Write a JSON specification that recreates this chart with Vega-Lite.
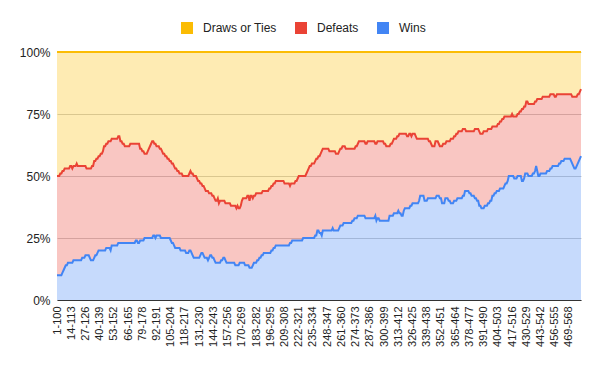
{
"$schema": "https://vega.github.io/schema/vega-lite/v6.json",
"width": 524, "height": 248,
"autosize": "none",
"padding": {"left": 57, "top": 52, "right": 19, "bottom": 71},
"background": "white",
"config": {"view": {"stroke": null}, "font": "Liberation Sans"},
"data": {"values": [
{"g":"1-100","W":10,"L":40,"D":50},{"g":"2-101","W":10,"L":40,"D":50},{"g":"3-102","W":10,"L":40,"D":50},{"g":"4-103","W":10,"L":41,"D":49},{"g":"5-104","W":10,"L":41,"D":49},
{"g":"6-105","W":11,"L":41,"D":48},{"g":"7-106","W":12,"L":40,"D":48},{"g":"8-107","W":13,"L":40,"D":47},{"g":"9-108","W":14,"L":39,"D":47},{"g":"10-109","W":14,"L":39,"D":47},
{"g":"11-110","W":15,"L":38,"D":47},{"g":"12-111","W":15,"L":38,"D":47},{"g":"13-112","W":15,"L":39,"D":46},{"g":"14-113","W":15,"L":39,"D":46},{"g":"15-114","W":15,"L":38,"D":47},
{"g":"16-115","W":16,"L":38,"D":46},{"g":"17-116","W":16,"L":38,"D":46},{"g":"18-117","W":16,"L":38,"D":46},{"g":"19-118","W":16,"L":39,"D":45},{"g":"20-119","W":16,"L":38,"D":46},
{"g":"21-120","W":16,"L":38,"D":46},{"g":"22-121","W":16,"L":38,"D":46},{"g":"23-122","W":16,"L":38,"D":46},{"g":"24-123","W":17,"L":37,"D":46},{"g":"25-124","W":17,"L":37,"D":46},
{"g":"26-125","W":17,"L":37,"D":46},{"g":"27-126","W":18,"L":36,"D":46},{"g":"28-127","W":18,"L":35,"D":47},{"g":"29-128","W":18,"L":35,"D":47},{"g":"30-129","W":18,"L":35,"D":47},
{"g":"31-130","W":17,"L":36,"D":47},{"g":"32-131","W":16,"L":37,"D":47},{"g":"33-132","W":16,"L":38,"D":46},{"g":"34-133","W":16,"L":38,"D":46},{"g":"35-134","W":17,"L":39,"D":44},
{"g":"36-135","W":18,"L":38,"D":44},{"g":"37-136","W":18,"L":39,"D":43},{"g":"38-137","W":19,"L":38,"D":43},{"g":"39-138","W":20,"L":38,"D":42},{"g":"40-139","W":20,"L":38,"D":42},
{"g":"41-140","W":20,"L":39,"D":41},{"g":"42-141","W":20,"L":39,"D":41},{"g":"43-142","W":20,"L":40,"D":40},{"g":"44-143","W":20,"L":42,"D":38},{"g":"45-144","W":20,"L":42,"D":38},
{"g":"46-145","W":21,"L":42,"D":37},{"g":"47-146","W":21,"L":42,"D":37},{"g":"48-147","W":21,"L":43,"D":36},{"g":"49-148","W":21,"L":43,"D":36},{"g":"50-149","W":20,"L":44,"D":36},
{"g":"51-150","W":22,"L":43,"D":35},{"g":"52-151","W":22,"L":43,"D":35},{"g":"53-152","W":22,"L":43,"D":35},{"g":"54-153","W":22,"L":43,"D":35},{"g":"55-154","W":22,"L":43,"D":35},
{"g":"56-155","W":22,"L":43,"D":35},{"g":"57-156","W":23,"L":43,"D":34},{"g":"58-157","W":23,"L":43,"D":34},{"g":"59-158","W":23,"L":41,"D":36},{"g":"60-159","W":23,"L":41,"D":36},
{"g":"61-160","W":23,"L":40,"D":37},{"g":"62-161","W":23,"L":40,"D":37},{"g":"63-162","W":23,"L":39,"D":38},{"g":"64-163","W":23,"L":39,"D":38},{"g":"65-164","W":23,"L":39,"D":38},
{"g":"66-165","W":23,"L":39,"D":38},{"g":"67-166","W":23,"L":39,"D":38},{"g":"68-167","W":23,"L":40,"D":37},{"g":"69-168","W":23,"L":40,"D":37},{"g":"70-169","W":23,"L":40,"D":37},
{"g":"71-170","W":23,"L":40,"D":37},{"g":"72-171","W":23,"L":40,"D":37},{"g":"73-172","W":24,"L":39,"D":37},{"g":"74-173","W":24,"L":39,"D":37},{"g":"75-174","W":23,"L":40,"D":37},
{"g":"76-175","W":23,"L":40,"D":37},{"g":"77-176","W":24,"L":37,"D":39},{"g":"78-177","W":24,"L":37,"D":39},{"g":"79-178","W":24,"L":36,"D":40},{"g":"80-179","W":24,"L":36,"D":40},
{"g":"81-180","W":25,"L":34,"D":41},{"g":"82-181","W":25,"L":34,"D":41},{"g":"83-182","W":25,"L":34,"D":41},{"g":"84-183","W":25,"L":35,"D":40},{"g":"85-184","W":25,"L":36,"D":39},
{"g":"86-185","W":25,"L":37,"D":38},{"g":"87-186","W":25,"L":38,"D":37},{"g":"88-187","W":25,"L":39,"D":36},{"g":"89-188","W":26,"L":38,"D":36},{"g":"90-189","W":26,"L":37,"D":37},
{"g":"91-190","W":25,"L":38,"D":37},{"g":"92-191","W":26,"L":36,"D":38},{"g":"93-192","W":26,"L":36,"D":38},{"g":"94-193","W":26,"L":36,"D":38},{"g":"95-194","W":26,"L":35,"D":39},
{"g":"96-195","W":25,"L":36,"D":39},{"g":"97-196","W":25,"L":35,"D":40},{"g":"98-197","W":25,"L":34,"D":41},{"g":"99-198","W":25,"L":34,"D":41},{"g":"100-199","W":25,"L":33,"D":42},
{"g":"101-200","W":25,"L":33,"D":42},{"g":"102-201","W":25,"L":32,"D":43},{"g":"103-202","W":25,"L":32,"D":43},{"g":"104-203","W":25,"L":31,"D":44},{"g":"105-204","W":24,"L":32,"D":44},
{"g":"106-205","W":23,"L":32,"D":45},{"g":"107-206","W":23,"L":32,"D":45},{"g":"108-207","W":22,"L":32,"D":46},{"g":"109-208","W":21,"L":32,"D":47},{"g":"110-209","W":21,"L":32,"D":47},
{"g":"111-210","W":21,"L":31,"D":48},{"g":"112-211","W":21,"L":31,"D":48},{"g":"113-212","W":21,"L":30,"D":49},{"g":"114-213","W":20,"L":31,"D":49},{"g":"115-214","W":20,"L":31,"D":49},
{"g":"116-215","W":20,"L":30,"D":50},{"g":"117-216","W":20,"L":30,"D":50},{"g":"118-217","W":20,"L":30,"D":50},{"g":"119-218","W":19,"L":31,"D":50},{"g":"120-219","W":19,"L":31,"D":50},
{"g":"121-220","W":19,"L":31,"D":50},{"g":"122-221","W":20,"L":31,"D":49},{"g":"123-222","W":20,"L":32,"D":48},{"g":"124-223","W":19,"L":32,"D":49},{"g":"125-224","W":18,"L":33,"D":49},
{"g":"126-225","W":17,"L":33,"D":50},{"g":"127-226","W":17,"L":33,"D":50},{"g":"128-227","W":17,"L":33,"D":50},{"g":"129-228","W":17,"L":32,"D":51},{"g":"130-229","W":17,"L":31,"D":52},
{"g":"131-230","W":17,"L":31,"D":52},{"g":"132-231","W":18,"L":29,"D":53},{"g":"133-232","W":19,"L":28,"D":53},{"g":"134-233","W":19,"L":27,"D":54},{"g":"135-234","W":18,"L":28,"D":54},
{"g":"136-235","W":17,"L":28,"D":55},{"g":"137-236","W":17,"L":27,"D":56},{"g":"138-237","W":17,"L":27,"D":56},{"g":"139-238","W":16,"L":28,"D":56},{"g":"140-239","W":17,"L":26,"D":57},
{"g":"141-240","W":18,"L":25,"D":57},{"g":"142-241","W":18,"L":25,"D":57},{"g":"143-242","W":17,"L":25,"D":58},{"g":"144-243","W":17,"L":25,"D":58},{"g":"145-244","W":16,"L":25,"D":59},
{"g":"146-245","W":15,"L":25,"D":60},{"g":"147-246","W":15,"L":25,"D":60},{"g":"148-247","W":15,"L":26,"D":59},{"g":"149-248","W":15,"L":24,"D":61},{"g":"150-249","W":15,"L":25,"D":60},
{"g":"151-250","W":16,"L":24,"D":60},{"g":"152-251","W":16,"L":24,"D":60},{"g":"153-252","W":17,"L":23,"D":60},{"g":"154-253","W":17,"L":23,"D":60},{"g":"155-254","W":16,"L":23,"D":61},
{"g":"156-255","W":15,"L":24,"D":61},{"g":"157-256","W":15,"L":24,"D":61},{"g":"158-257","W":15,"L":24,"D":61},{"g":"159-258","W":15,"L":24,"D":61},{"g":"160-259","W":15,"L":23,"D":62},
{"g":"161-260","W":15,"L":23,"D":62},{"g":"162-261","W":15,"L":23,"D":62},{"g":"163-262","W":15,"L":23,"D":62},{"g":"164-263","W":14,"L":24,"D":62},{"g":"165-264","W":14,"L":23,"D":63},
{"g":"166-265","W":14,"L":24,"D":62},{"g":"167-266","W":14,"L":23,"D":63},{"g":"168-267","W":15,"L":22,"D":63},{"g":"169-268","W":15,"L":23,"D":62},{"g":"170-269","W":15,"L":25,"D":60},
{"g":"171-270","W":15,"L":26,"D":59},{"g":"172-271","W":15,"L":26,"D":59},{"g":"173-272","W":14,"L":27,"D":59},{"g":"174-273","W":14,"L":27,"D":59},{"g":"175-274","W":14,"L":28,"D":58},
{"g":"176-275","W":14,"L":28,"D":58},{"g":"177-276","W":13,"L":27,"D":60},{"g":"178-277","W":13,"L":29,"D":58},{"g":"179-278","W":13,"L":29,"D":58},{"g":"180-279","W":14,"L":27,"D":59},
{"g":"181-280","W":15,"L":27,"D":58},{"g":"182-281","W":15,"L":27,"D":58},{"g":"183-282","W":15,"L":28,"D":57},{"g":"184-283","W":16,"L":27,"D":57},{"g":"185-284","W":16,"L":27,"D":57},
{"g":"186-285","W":17,"L":26,"D":57},{"g":"187-286","W":17,"L":26,"D":57},{"g":"188-287","W":18,"L":25,"D":57},{"g":"189-288","W":18,"L":26,"D":56},{"g":"190-289","W":19,"L":25,"D":56},
{"g":"191-290","W":19,"L":25,"D":56},{"g":"192-291","W":19,"L":25,"D":56},{"g":"193-292","W":19,"L":25,"D":56},{"g":"194-293","W":19,"L":25,"D":56},{"g":"195-294","W":19,"L":26,"D":55},
{"g":"196-295","W":19,"L":26,"D":55},{"g":"197-296","W":20,"L":26,"D":54},{"g":"198-297","W":20,"L":26,"D":54},{"g":"199-298","W":21,"L":26,"D":53},{"g":"200-299","W":21,"L":26,"D":53},
{"g":"201-300","W":22,"L":26,"D":52},{"g":"202-301","W":22,"L":26,"D":52},{"g":"203-302","W":22,"L":26,"D":52},{"g":"204-303","W":22,"L":26,"D":52},{"g":"205-304","W":22,"L":26,"D":52},
{"g":"206-305","W":22,"L":26,"D":52},{"g":"207-306","W":22,"L":26,"D":52},{"g":"208-307","W":22,"L":26,"D":52},{"g":"209-308","W":22,"L":25,"D":53},{"g":"210-309","W":22,"L":25,"D":53},
{"g":"211-310","W":22,"L":25,"D":53},{"g":"212-311","W":22,"L":25,"D":53},{"g":"213-312","W":22,"L":25,"D":53},{"g":"214-313","W":23,"L":23,"D":54},{"g":"215-314","W":23,"L":24,"D":53},
{"g":"216-315","W":24,"L":23,"D":53},{"g":"217-316","W":24,"L":23,"D":53},{"g":"218-317","W":24,"L":23,"D":53},{"g":"219-318","W":24,"L":24,"D":52},{"g":"220-319","W":24,"L":24,"D":52},
{"g":"221-320","W":24,"L":25,"D":51},{"g":"222-321","W":24,"L":26,"D":50},{"g":"223-322","W":24,"L":26,"D":50},{"g":"224-323","W":24,"L":26,"D":50},{"g":"225-324","W":24,"L":26,"D":50},
{"g":"226-325","W":25,"L":25,"D":50},{"g":"227-326","W":25,"L":25,"D":50},{"g":"228-327","W":25,"L":25,"D":50},{"g":"229-328","W":25,"L":26,"D":49},{"g":"230-329","W":25,"L":27,"D":48},
{"g":"231-330","W":25,"L":28,"D":47},{"g":"232-331","W":25,"L":29,"D":46},{"g":"233-332","W":25,"L":29,"D":46},{"g":"234-333","W":25,"L":30,"D":45},{"g":"235-334","W":25,"L":30,"D":45},
{"g":"236-335","W":25,"L":30,"D":45},{"g":"237-336","W":26,"L":30,"D":44},{"g":"238-337","W":26,"L":31,"D":43},{"g":"239-338","W":28,"L":29,"D":43},{"g":"240-339","W":28,"L":30,"D":42},
{"g":"241-340","W":27,"L":31,"D":42},{"g":"242-341","W":27,"L":32,"D":41},{"g":"243-342","W":26,"L":34,"D":40},{"g":"244-343","W":28,"L":33,"D":39},{"g":"245-344","W":28,"L":33,"D":39},
{"g":"246-345","W":28,"L":33,"D":39},{"g":"247-346","W":28,"L":33,"D":39},{"g":"248-347","W":28,"L":33,"D":39},{"g":"249-348","W":28,"L":33,"D":39},{"g":"250-349","W":28,"L":32,"D":40},
{"g":"251-350","W":28,"L":32,"D":40},{"g":"252-351","W":28,"L":32,"D":40},{"g":"253-352","W":29,"L":31,"D":40},{"g":"254-353","W":28,"L":32,"D":40},{"g":"255-354","W":28,"L":32,"D":40},
{"g":"256-355","W":28,"L":31,"D":41},{"g":"257-356","W":28,"L":31,"D":41},{"g":"258-357","W":28,"L":31,"D":41},{"g":"259-358","W":29,"L":31,"D":40},{"g":"260-359","W":30,"L":31,"D":39},
{"g":"261-360","W":30,"L":31,"D":39},{"g":"262-361","W":30,"L":32,"D":38},{"g":"263-362","W":31,"L":31,"D":38},{"g":"264-363","W":31,"L":31,"D":38},{"g":"265-364","W":31,"L":30,"D":39},
{"g":"266-365","W":31,"L":30,"D":39},{"g":"267-366","W":31,"L":30,"D":39},{"g":"268-367","W":31,"L":30,"D":39},{"g":"269-368","W":31,"L":30,"D":39},{"g":"270-369","W":31,"L":30,"D":39},
{"g":"271-370","W":32,"L":29,"D":39},{"g":"272-371","W":32,"L":29,"D":39},{"g":"273-372","W":33,"L":28,"D":39},{"g":"274-373","W":33,"L":29,"D":38},{"g":"275-374","W":33,"L":29,"D":38},
{"g":"276-375","W":34,"L":29,"D":37},{"g":"277-376","W":34,"L":30,"D":36},{"g":"278-377","W":34,"L":30,"D":36},{"g":"279-378","W":34,"L":30,"D":36},{"g":"280-379","W":34,"L":30,"D":36},
{"g":"281-380","W":34,"L":30,"D":36},{"g":"282-381","W":34,"L":30,"D":36},{"g":"283-382","W":33,"L":30,"D":37},{"g":"284-383","W":33,"L":30,"D":37},{"g":"285-384","W":33,"L":31,"D":36},
{"g":"286-385","W":33,"L":31,"D":36},{"g":"287-386","W":33,"L":31,"D":36},{"g":"288-387","W":33,"L":31,"D":36},{"g":"289-388","W":33,"L":31,"D":36},{"g":"290-389","W":33,"L":31,"D":36},
{"g":"291-390","W":33,"L":31,"D":36},{"g":"292-391","W":34,"L":29,"D":37},{"g":"293-392","W":32,"L":31,"D":37},{"g":"294-393","W":33,"L":31,"D":36},{"g":"295-394","W":33,"L":31,"D":36},
{"g":"296-395","W":32,"L":32,"D":36},{"g":"297-396","W":32,"L":32,"D":36},{"g":"298-397","W":32,"L":32,"D":36},{"g":"299-398","W":32,"L":32,"D":36},{"g":"300-399","W":32,"L":31,"D":37},
{"g":"301-400","W":32,"L":31,"D":37},{"g":"302-401","W":32,"L":30,"D":38},{"g":"303-402","W":32,"L":30,"D":38},{"g":"304-403","W":32,"L":30,"D":38},{"g":"305-404","W":34,"L":28,"D":38},
{"g":"306-405","W":34,"L":29,"D":37},{"g":"307-406","W":34,"L":29,"D":37},{"g":"308-407","W":34,"L":30,"D":36},{"g":"309-408","W":35,"L":30,"D":35},{"g":"310-409","W":35,"L":30,"D":35},
{"g":"311-410","W":35,"L":30,"D":35},{"g":"312-411","W":35,"L":31,"D":34},{"g":"313-412","W":36,"L":30,"D":34},{"g":"314-413","W":35,"L":32,"D":33},{"g":"315-414","W":35,"L":32,"D":33},
{"g":"316-415","W":34,"L":33,"D":33},{"g":"317-416","W":34,"L":33,"D":33},{"g":"318-417","W":36,"L":31,"D":33},{"g":"319-418","W":37,"L":30,"D":33},{"g":"320-419","W":37,"L":30,"D":33},
{"g":"321-420","W":37,"L":29,"D":34},{"g":"322-421","W":37,"L":29,"D":34},{"g":"323-422","W":37,"L":30,"D":33},{"g":"324-423","W":38,"L":29,"D":33},{"g":"325-424","W":38,"L":28,"D":34},
{"g":"326-425","W":39,"L":28,"D":33},{"g":"327-426","W":39,"L":28,"D":33},{"g":"328-427","W":39,"L":28,"D":33},{"g":"329-428","W":39,"L":27,"D":34},{"g":"330-429","W":39,"L":26,"D":35},
{"g":"331-430","W":39,"L":26,"D":35},{"g":"332-431","W":40,"L":25,"D":35},{"g":"333-432","W":42,"L":23,"D":35},{"g":"334-433","W":42,"L":23,"D":35},{"g":"335-434","W":42,"L":23,"D":35},
{"g":"336-435","W":42,"L":23,"D":35},{"g":"337-436","W":40,"L":25,"D":35},{"g":"338-437","W":40,"L":25,"D":35},{"g":"339-438","W":40,"L":25,"D":35},{"g":"340-439","W":41,"L":24,"D":35},
{"g":"341-440","W":41,"L":23,"D":36},{"g":"342-441","W":41,"L":23,"D":36},{"g":"343-442","W":41,"L":22,"D":37},{"g":"344-443","W":41,"L":21,"D":38},{"g":"345-444","W":41,"L":21,"D":38},
{"g":"346-445","W":41,"L":21,"D":38},{"g":"347-446","W":41,"L":23,"D":36},{"g":"348-447","W":42,"L":22,"D":36},{"g":"349-448","W":42,"L":22,"D":36},{"g":"350-449","W":42,"L":21,"D":37},
{"g":"351-450","W":41,"L":21,"D":38},{"g":"352-451","W":41,"L":21,"D":38},{"g":"353-452","W":39,"L":23,"D":38},{"g":"354-453","W":39,"L":24,"D":37},{"g":"355-454","W":39,"L":24,"D":37},
{"g":"356-455","W":41,"L":22,"D":37},{"g":"357-456","W":41,"L":23,"D":36},{"g":"358-457","W":41,"L":23,"D":36},{"g":"359-458","W":40,"L":24,"D":36},{"g":"360-459","W":40,"L":24,"D":36},
{"g":"361-460","W":39,"L":26,"D":35},{"g":"362-461","W":39,"L":26,"D":35},{"g":"363-462","W":39,"L":26,"D":35},{"g":"364-463","W":40,"L":26,"D":34},{"g":"365-464","W":40,"L":26,"D":34},
{"g":"366-465","W":40,"L":27,"D":33},{"g":"367-466","W":41,"L":26,"D":33},{"g":"368-467","W":41,"L":27,"D":32},{"g":"369-468","W":41,"L":27,"D":32},{"g":"370-469","W":41,"L":27,"D":32},
{"g":"371-470","W":41,"L":27,"D":32},{"g":"372-471","W":42,"L":27,"D":31},{"g":"373-472","W":42,"L":27,"D":31},{"g":"374-473","W":44,"L":25,"D":31},{"g":"375-474","W":44,"L":24,"D":32},
{"g":"376-475","W":44,"L":24,"D":32},{"g":"377-476","W":44,"L":24,"D":32},{"g":"378-477","W":43,"L":25,"D":32},{"g":"379-478","W":43,"L":25,"D":32},{"g":"380-479","W":42,"L":26,"D":32},
{"g":"381-480","W":42,"L":26,"D":32},{"g":"382-481","W":42,"L":26,"D":32},{"g":"383-482","W":41,"L":28,"D":31},{"g":"384-483","W":41,"L":28,"D":31},{"g":"385-484","W":40,"L":29,"D":31},
{"g":"386-485","W":40,"L":29,"D":31},{"g":"387-486","W":38,"L":30,"D":32},{"g":"388-487","W":38,"L":29,"D":33},{"g":"389-488","W":37,"L":30,"D":33},{"g":"390-489","W":37,"L":30,"D":33},
{"g":"391-490","W":37,"L":31,"D":32},{"g":"392-491","W":38,"L":30,"D":32},{"g":"393-492","W":38,"L":30,"D":32},{"g":"394-493","W":38,"L":30,"D":32},{"g":"395-494","W":39,"L":30,"D":31},
{"g":"396-495","W":39,"L":30,"D":31},{"g":"397-496","W":40,"L":29,"D":31},{"g":"398-497","W":40,"L":29,"D":31},{"g":"399-498","W":42,"L":28,"D":30},{"g":"400-499","W":42,"L":28,"D":30},
{"g":"401-500","W":43,"L":27,"D":30},{"g":"402-501","W":43,"L":27,"D":30},{"g":"403-502","W":44,"L":26,"D":30},{"g":"404-503","W":44,"L":27,"D":29},{"g":"405-504","W":44,"L":27,"D":29},
{"g":"406-505","W":45,"L":27,"D":28},{"g":"407-506","W":45,"L":27,"D":28},{"g":"408-507","W":45,"L":28,"D":27},{"g":"409-508","W":45,"L":28,"D":27},{"g":"410-509","W":46,"L":28,"D":26},
{"g":"411-510","W":47,"L":27,"D":26},{"g":"412-511","W":47,"L":27,"D":26},{"g":"413-512","W":48,"L":26,"D":26},{"g":"414-513","W":50,"L":24,"D":26},{"g":"415-514","W":50,"L":24,"D":26},
{"g":"416-515","W":50,"L":24,"D":26},{"g":"417-516","W":50,"L":25,"D":25},{"g":"418-517","W":50,"L":24,"D":26},{"g":"419-518","W":49,"L":25,"D":26},{"g":"420-519","W":49,"L":25,"D":26},
{"g":"421-520","W":49,"L":25,"D":26},{"g":"422-521","W":50,"L":25,"D":25},{"g":"423-522","W":50,"L":25,"D":25},{"g":"424-523","W":50,"L":26,"D":24},{"g":"425-524","W":50,"L":26,"D":24},
{"g":"426-525","W":48,"L":29,"D":23},{"g":"427-526","W":48,"L":29,"D":23},{"g":"428-527","W":49,"L":29,"D":22},{"g":"429-528","W":51,"L":27,"D":22},{"g":"430-529","W":51,"L":29,"D":20},
{"g":"431-530","W":51,"L":29,"D":20},{"g":"432-531","W":50,"L":29,"D":21},{"g":"433-532","W":50,"L":29,"D":21},{"g":"434-533","W":50,"L":29,"D":21},{"g":"435-534","W":50,"L":29,"D":21},
{"g":"436-535","W":51,"L":28,"D":21},{"g":"437-536","W":51,"L":28,"D":21},{"g":"438-537","W":52,"L":28,"D":20},{"g":"439-538","W":54,"L":26,"D":20},{"g":"440-539","W":52,"L":29,"D":19},
{"g":"441-540","W":50,"L":31,"D":19},{"g":"442-541","W":50,"L":31,"D":19},{"g":"443-542","W":51,"L":30,"D":19},{"g":"444-543","W":51,"L":30,"D":19},{"g":"445-544","W":51,"L":31,"D":18},
{"g":"446-545","W":51,"L":31,"D":18},{"g":"447-546","W":51,"L":31,"D":18},{"g":"448-547","W":51,"L":31,"D":18},{"g":"449-548","W":52,"L":30,"D":18},{"g":"450-549","W":52,"L":30,"D":18},
{"g":"451-550","W":52,"L":30,"D":18},{"g":"452-551","W":53,"L":30,"D":17},{"g":"453-552","W":53,"L":30,"D":17},{"g":"454-553","W":54,"L":29,"D":17},{"g":"455-554","W":54,"L":29,"D":17},
{"g":"456-555","W":54,"L":28,"D":18},{"g":"457-556","W":54,"L":28,"D":18},{"g":"458-557","W":54,"L":29,"D":17},{"g":"459-558","W":54,"L":29,"D":17},{"g":"460-559","W":55,"L":28,"D":17},
{"g":"461-560","W":55,"L":28,"D":17},{"g":"462-561","W":56,"L":27,"D":17},{"g":"463-562","W":56,"L":27,"D":17},{"g":"464-563","W":56,"L":27,"D":17},{"g":"465-564","W":57,"L":26,"D":17},
{"g":"466-565","W":57,"L":26,"D":17},{"g":"467-566","W":57,"L":26,"D":17},{"g":"468-567","W":57,"L":26,"D":17},{"g":"469-568","W":57,"L":26,"D":17},{"g":"470-569","W":57,"L":26,"D":17},
{"g":"471-570","W":56,"L":27,"D":17},{"g":"472-571","W":55,"L":27,"D":18},{"g":"473-572","W":54,"L":28,"D":18},{"g":"474-573","W":53,"L":29,"D":18},{"g":"475-574","W":53,"L":29,"D":18},
{"g":"476-575","W":54,"L":28,"D":18},{"g":"477-576","W":55,"L":28,"D":17},{"g":"478-577","W":56,"L":27,"D":17},{"g":"479-578","W":57,"L":27,"D":16},{"g":"480-579","W":58,"L":27,"D":15}
]},
"transform": [
  {"fold": ["W", "L", "D"], "as": ["k", "v"]},
  {"lookup": "k", "from": {"data": {"values": [
    {"k": "W", "s": "Wins", "o": 1},
    {"k": "L", "s": "Defeats", "o": 2},
    {"k": "D", "s": "Draws or Ties", "o": 3}
  ]}, "key": "k", "fields": ["s", "o"]}},
  {"stack": "v", "groupby": ["g"], "sort": [{"field": "o", "order": "ascending"}], "as": ["y0", "y1"], "offset": "zero"}
],
"encoding": {
  "x": {"field": "g", "type": "ordinal", "sort": null,
        "scale": {"type": "point", "padding": 0},
        "axis": {"title": null, "labelAngle": -90, "labelFontSize": 11, "labelColor": "#222222",
                 "labelPadding": 6, "ticks": false, "grid": false, "domain": true, "domainColor": "#333333",
                 "domainWidth": 1, "labelOverlap": false, "zindex": 1,
                 "values": ["1-100","14-113","27-126","40-139","53-152","66-165","79-178","92-191","105-204","118-217","131-230","144-243","157-256","170-269","183-282","196-295","209-308","222-321","235-334","248-347","261-360","274-373","287-386","300-399","313-412","326-425","339-438","352-451","365-464","378-477","391-490","404-503","417-516","430-529","443-542","456-555","469-568"]}},
  "color": {"field": "s", "type": "nominal",
            "scale": {"domain": ["Draws or Ties", "Defeats", "Wins"], "range": ["#FBBC04", "#EA4335", "#4285F4"]},
            "legend": {"title": null, "orient": "none", "legendX": 124, "legendY": -30, "direction": "horizontal",
                       "symbolType": "square", "symbolSize": 144, "symbolOpacity": 1, "symbolStrokeWidth": 0,
                       "symbolFillColor": null, "labelFontSize": 12, "labelColor": "#222222", "labelOffset": 10,
                       "columnPadding": 18}},
  "order": {"value": null}
},
"layer": [
  {"mark": {"type": "area", "opacity": 0.3},
   "encoding": {
     "y": {"field": "y1", "type": "quantitative", "scale": {"domain": [0, 100]},
           "axis": {"title": null, "values": [0, 25, 50, 75, 100], "labelExpr": "datum.value + '%'",
                    "labelFontSize": 12, "labelColor": "#222222", "labelPadding": 7, "ticks": false,
                    "domain": false, "grid": true, "gridColor": "#cccccc"}},
     "y2": {"field": "y0"}}},
  {"mark": {"type": "line", "strokeWidth": 2},
   "encoding": {"y": {"field": "y1", "type": "quantitative"}}}
]
}
